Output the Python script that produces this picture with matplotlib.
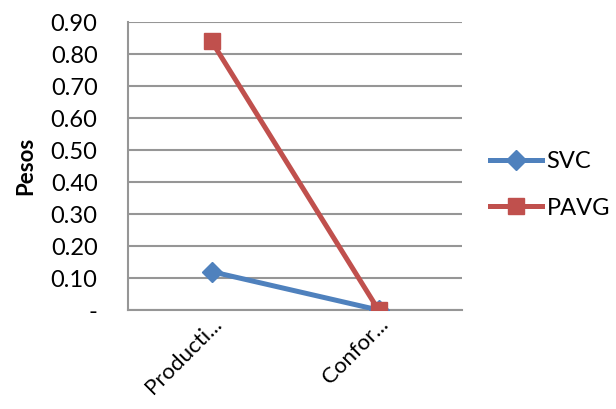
import matplotlib.pyplot as plt

plt.rcParams['font.family'] = ['Lato', 'DejaVu Sans']

# datos
categorias = ['Producti...', 'Confor...']
svc = [0.12, 0.00]
pavg = [0.84, 0.00]
ticks_y = [0.0, 0.1, 0.2, 0.3, 0.4, 0.5, 0.6, 0.7, 0.8, 0.9]
etiquetas_y = ['-', '0.10', '0.20', '0.30', '0.40', '0.50', '0.60', '0.70', '0.80', '0.90']

fig = plt.figure(figsize=(6.16, 4.09), dpi=100)
ax = fig.add_axes([0.208, 0.242, 0.542, 0.704])

x = list(range(len(categorias)))
ax.plot(x, svc, color='#4F81BD', lw=3.6, marker='D', ms=10, label='SVC', zorder=3)
ax.plot(x, pavg, color='#C0504D', lw=3.6, marker='s', ms=12, label='PAVG', zorder=3)

ax.set_xlim(-0.5, 1.5)
ax.set_ylim(0, 0.9)
ax.set_yticks(ticks_y)
ax.set_yticklabels(etiquetas_y, fontsize=17)
ax.set_xticks(x)
ax.set_xticklabels(categorias, fontsize=16, rotation=45, ha='right', rotation_mode='anchor')
ax.tick_params(axis='x', length=0, pad=3)
ax.tick_params(axis='y', length=0, pad=22)
ax.grid(axis='y', color='#969696', lw=1.5)
ax.set_axisbelow(True)
for s in ['top', 'right']:
    ax.spines[s].set_visible(False)
for s in ['left', 'bottom']:
    ax.spines[s].set_color('#969696')
    ax.spines[s].set_linewidth(1.5)

ax.set_ylabel('Pesos', fontsize=16, fontweight='bold', labelpad=10)

ax.legend(loc='center left', bbox_to_anchor=(1.02, 0.435), frameon=False, fontsize=17,
          handlelength=2.2, labelspacing=1.1, handletextpad=0.2)

fig.savefig('out.png', dpi=100)
